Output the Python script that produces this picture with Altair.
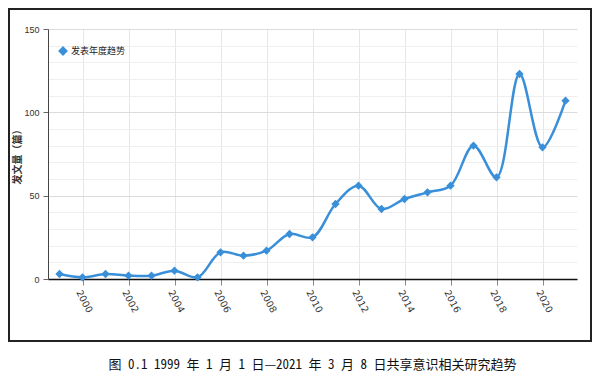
import altair as alt
import pandas as pd

years = list(range(1999, 2022))
counts = [3, 1, 3, 2, 2, 5, 1, 16, 14, 17, 27, 25, 45, 56, 42, 48, 52, 56, 80, 61, 123, 79, 107]
series_name = "发表年度趋势"
x_ticks = list(range(2000, 2021, 2))
y_ticks = list(range(0, 151, 10))
caption = "图 0.1 1999 年 1 月 1 日—2021 年 3 月 8 日共享意识相关研究趋势"

df = pd.DataFrame({"year": years, "count": counts, "series": [series_name] * len(years)})

BLUE = "#3A8FD9"
FONT = "Noto Sans CJK SC"

x_enc = alt.X(
    "year:Q",
    scale=alt.Scale(domain=[1998.5, 2021.5], nice=False, zero=False),
    axis=alt.Axis(
        values=x_ticks, format="d", title=None, labelAngle=62, labelAlign="left",
        labelBaseline="top", labelFontSize=9.5, labelColor="#333", labelPadding=3,
        tickSize=6, tickColor="#888", domainColor="#111", domainWidth=1.5,
        grid=True, gridColor="#e6e6e6", labelFont="DejaVu Sans",
    ),
)
y_enc = alt.Y(
    "count:Q",
    scale=alt.Scale(domain=[0, 150], nice=False),
    axis=alt.Axis(
        values=y_ticks, title="发文量（篇）", titleFont=FONT, titleFontSize=10,
        titleFontWeight="bold", titleColor="#333", titleX=-31, titleY=125,
        titleBaseline="middle",
        labelExpr="datum.value % 50 === 0 ? datum.label : ''",
        labelFontSize=9, labelColor="#333", labelPadding=4,
        tickSize=5,
        tickColor=alt.condition("datum.value % 50 === 0", alt.value("#666"), alt.value("transparent")),
        domainColor="#444", domainWidth=1,
        grid=True,
        gridColor=alt.condition("datum.value % 50 === 0", alt.value("#dcdcdc"), alt.value("#efefef")),
    ),
)
color_enc = alt.Color(
    "series:N",
    scale=alt.Scale(range=[BLUE]),
    legend=alt.Legend(
        title=None, orient="none", legendX=10, legendY=17, symbolType="diamond",
        symbolSize=60, symbolFillColor=BLUE, symbolStrokeColor=BLUE,
        labelFont=FONT, labelFontSize=9, labelColor="#222", labelOffset=3,
    ),
)

base = alt.Chart(df).encode(x=x_enc, y=y_enc, color=color_enc)
line = base.mark_line(interpolate="catmull-rom", strokeWidth=2.5)
points = base.mark_point(shape="diamond", filled=True, size=70, opacity=1)

frame = alt.Chart(pd.DataFrame({"k": [0]})).mark_rect(
    fillOpacity=0, stroke="#222", strokeWidth=2
).encode(x=alt.value(-39), x2=alt.value(543), y=alt.value(-20), y2=alt.value(312))

chart = alt.layer(frame, line, points).properties(
    width=529, height=250,
    padding={"left": 40, "top": 21, "right": 19, "bottom": 99},
    autosize=alt.AutoSizeParams(type="none"),
    title=alt.TitleParams(
        text=caption, orient="bottom", anchor="middle",
        font="Noto Sans Mono CJK SC, Noto Sans CJK SC", fontSize=13,
        fontWeight="normal", color="#111", offset=17,
    ),
).configure_view(stroke=None)

chart.save("out.html", embed_options={"renderer": "svg", "actions": False})
